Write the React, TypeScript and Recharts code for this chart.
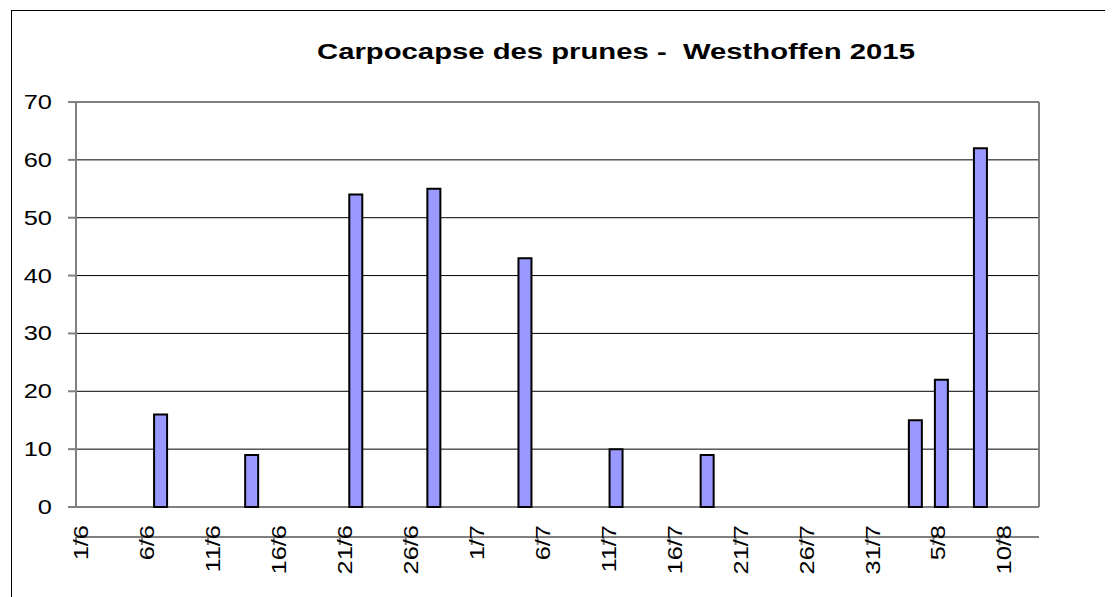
import { BarChart, Bar, XAxis, YAxis, CartesianGrid, ReferenceLine } from "recharts";

const TITLE = "Carpocapse des prunes -  Westhoffen 2015";

// relevés du piège (date -> nombre de captures)
const trapDates = ["7/6", "14/6", "22/6", "28/6", "5/7", "12/7", "19/7", "4/8", "6/8", "9/8"];
const trapCounts = [16, 9, 54, 55, 43, 10, 9, 15, 22, 62];

// période affichée : 1/6 -> 12/8
const months = [6, 7, 8];
const monthDays = [30, 31, 13];

const xTicks = [0, 5, 10, 15, 20, 25, 30, 35, 40, 45, 50, 55, 60, 65, 70];
const yTicks = [0, 10, 20, 30, 40, 50, 60, 70];

const FONT = "'Liberation Sans', Arial, sans-serif";
const STRETCH = 1.27;

const dayLabels: string[] = [];
months.forEach((m, i) => {
  for (let d = 1; d <= monthDays[i]; d++) dayLabels.push(`${d}/${m}`);
});

const data = dayLabels.map((label, idx) => {
  const k = trapDates.indexOf(label);
  return { idx, label, value: k >= 0 ? trapCounts[k] : null };
});

function YTick({ x, y, payload }: any) {
  return (
    <g transform={`translate(${x},${y})`}>
      <text
        transform={`scale(${STRETCH},1)`}
        textAnchor="end"
        dy="0.35em"
        fontSize={20}
        fontFamily={FONT}
        fill="#000"
      >
        {payload.value}
      </text>
    </g>
  );
}

// the y handed to the tick sits lower than tickSize + tickMargin, pull it back up
const X_LABEL_SHIFT = -28;

function XTick({ x, y, payload }: any) {
  return (
    <g transform={`translate(${x},${y + X_LABEL_SHIFT}) rotate(-90)`}>
      <text
        transform={`scale(${STRETCH},1)`}
        textAnchor="end"
        dy={12}
        fontSize={20}
        fontFamily={FONT}
        fill="#000"
      >
        {dayLabels[payload.value] ?? ""}
      </text>
    </g>
  );
}

export default function App() {
  return (
    <div style={{ position: "relative", width: 1105, height: 589, overflow: "hidden", background: "#fff" }}>
      {/* cadre du graphique */}
      <div
        style={{
          position: "absolute",
          left: 3,
          top: 2,
          width: 1200,
          height: 700,
          border: "1px solid #000",
        }}
      />
      <div
        style={{
          position: "absolute",
          left: 608 - 300,
          top: 33,
          width: 600,
          textAlign: "center",
          whiteSpace: "pre",
          fontFamily: FONT,
          fontWeight: "bold",
          fontSize: 22,
          lineHeight: "22px",
          transform: "scaleX(1.33)",
          transformOrigin: "center",
        }}
      >
        {TITLE}
      </div>
      <div style={{ position: "absolute", left: 0, top: 0 }}>
        <BarChart
          width={1105}
          height={589}
          data={data}
          barCategoryGap={0}
          margin={{ top: 94, right: 74, bottom: 0, left: 0 }}
        >
          <CartesianGrid xAxisId="num" vertical={false} stroke="#000" strokeWidth={1} />
          <XAxis xAxisId="cat" dataKey="idx" type="category" hide />
          <XAxis
            xAxisId="num"
            dataKey="idx"
            type="number"
            domain={[0, 73]}
            allowDataOverflow
            ticks={xTicks}
            interval={0}
            height={90}
            tickSize={8}
            tickMargin={8}
            stroke="#808080"
            axisLine={{ stroke: "#808080", strokeWidth: 2 }}
            tickLine={{ stroke: "#808080", strokeWidth: 2 }}
            tick={<XTick />}
          />
          <YAxis
            domain={[0, 70]}
            ticks={yTicks}
            interval={0}
            width={68}
            tickSize={8}
            tickMargin={16}
            axisLine={{ stroke: "#808080", strokeWidth: 2 }}
            tickLine={{ stroke: "#808080", strokeWidth: 2 }}
            tick={<YTick />}
          />
          <ReferenceLine y={70} xAxisId="num" stroke="#808080" strokeWidth={2} />
          <ReferenceLine x={73} xAxisId="num" stroke="#808080" strokeWidth={2} />
          <Bar
            xAxisId="cat"
            dataKey="value"
            fill="#9999FF"
            stroke="#000"
            strokeWidth={2}
            isAnimationActive={false}
          />
        </BarChart>
      </div>
    </div>
  );
}
